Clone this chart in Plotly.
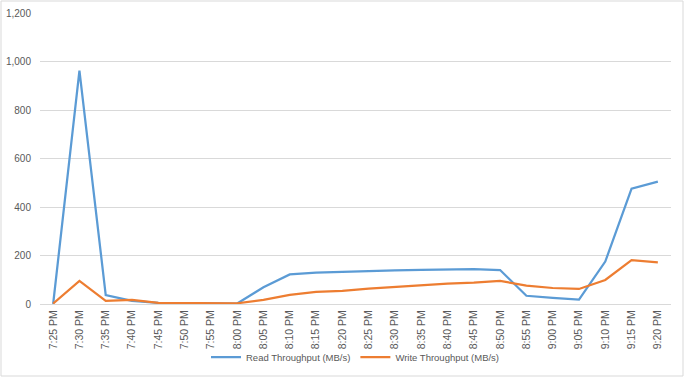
import plotly.graph_objects as go

times = ["7:25 PM", "7:30 PM", "7:35 PM", "7:40 PM", "7:45 PM", "7:50 PM", "7:55 PM", "8:00 PM",
         "8:05 PM", "8:10 PM", "8:15 PM", "8:20 PM", "8:25 PM", "8:30 PM", "8:35 PM", "8:40 PM",
         "8:45 PM", "8:50 PM", "8:55 PM", "9:00 PM", "9:05 PM", "9:10 PM", "9:15 PM", "9:20 PM"]
read_tp = [0, 962, 37, 13, 5, 3, 2, 2,
           69, 122, 129, 133, 135, 139, 141, 141,
           144, 140, 34, 25, 18, 175, 476, 505]
write_tp = [2, 95, 13, 17, 5, 4, 3, 3,
            17, 38, 50, 54, 63, 70, 78, 84,
            88, 95, 76, 66, 62, 99, 181, 172]

fig = go.Figure()
fig.add_trace(go.Scatter(x=times, y=read_tp, mode="lines", name="Read Throughput (MB/s)",
                         line=dict(color="#5B9BD5", width=2.25)))
fig.add_trace(go.Scatter(x=times, y=write_tp, mode="lines", name="Write Throughput (MB/s)",
                         line=dict(color="#ED7D31", width=2.25)))

L, R, T, B = 40, 13, 13, 73
W, H = 684, 377
pw, ph = W - L - R, H - T - B

fig.update_layout(
    width=W, height=H,
    margin=dict(l=L, r=R, t=T, b=B, autoexpand=False),
    paper_bgcolor="white", plot_bgcolor="white",
    font=dict(family="Liberation Sans", size=10, color="#595959"),
    showlegend=True,
    legend=dict(orientation="h", x=0.5, xanchor="center", y=(304 - 357) / ph, yanchor="middle",
                font=dict(size=9.5, color="#595959"), itemwidth=30, bgcolor="rgba(0,0,0,0)"),
    xaxis=dict(type="category", range=[-0.5, len(times) - 0.5], tickangle=-90, showgrid=False,
               showline=True, linecolor="#D9D9D9", linewidth=1, ticks="",
               tickfont=dict(size=10.5), ticklabelstandoff=1, automargin=False),
    yaxis=dict(range=[0, 1200], dtick=200, tickformat=",", showgrid=True, gridcolor="#D9D9D9",
               gridwidth=1, zeroline=False, showline=False, ticks="", tickfont=dict(size=10),
               ticklabelstandoff=8, automargin=False),
    shapes=[dict(type="rect", xref="paper", yref="paper",
                 x0=(1 - L) / pw, x1=(W - 1 - L) / pw,
                 y0=(304 - (H - 1)) / ph, y1=(304 - 1) / ph,
                 line=dict(color="#D9D9D9", width=1), fillcolor="rgba(0,0,0,0)", layer="below")],
)

fig.write_html("out.html", config={"displayModeBar": False},
               post_script="document.body.style.margin='0';document.body.style.overflow='hidden';")
